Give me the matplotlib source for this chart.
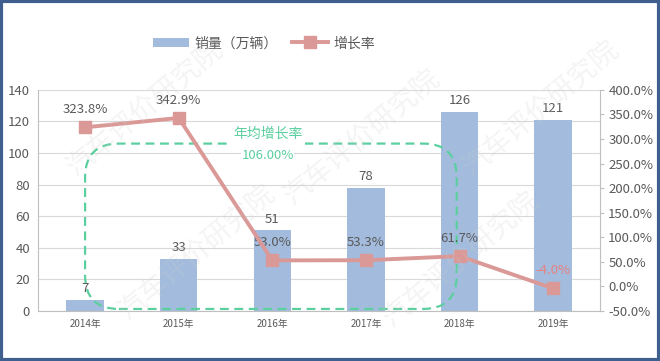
import matplotlib.pyplot as plt
import numpy as np
from matplotlib.patches import FancyBboxPatch, Rectangle

plt.rcParams['font.family'] = ['Noto Sans CJK SC', 'DejaVu Sans']

years = ['2014年', '2015年', '2016年', '2017年', '2018年', '2019年']
sales = [7, 33, 51, 78, 126, 121]
growth = [323.8, 342.9, 53.0, 53.3, 61.7, -4.0]
cagr = 106.00

bar_color = '#a3bcdd'
line_color = '#da9896'
green = '#5ccf9f'
gray = '#595959'

fig = plt.figure(figsize=(6.6, 3.61), dpi=100)
ax = fig.add_axes([0.058, 0.1385, 0.851, 0.6125])
ax2 = ax.twinx()
ax.set_zorder(1)
ax2.set_zorder(2)
ax.patch.set_visible(False)

x = np.arange(len(years))
bars = ax.bar(x, sales, width=0.4, color=bar_color, zorder=2, label='销量（万辆）')
for xi, v in zip(x, sales):
    ax.text(xi, v + 3, str(v), ha='center', va='bottom', fontsize=9.5, color=gray, zorder=5)

ax.set_xlim(-0.5, 5.5)
ax.set_ylim(0, 140)
ax.set_yticks(range(0, 141, 20))
ax.set_xticks(x)
ax.set_xticklabels(years, fontsize=7, color=gray)
ax.tick_params(axis='y', labelsize=9.5, colors=gray, length=0, pad=6)
ax.tick_params(axis='x', length=0, pad=6)
ax.grid(axis='y', color='#d9d9d9', linewidth=0.8, zorder=0)
ax.spines['top'].set_visible(False)
for s in ['left', 'right', 'bottom']:
    ax.spines[s].set_color('#bfbfbf')

ln, = ax2.plot(x, growth, color=line_color, linewidth=2.8, marker='s', markersize=8,
               markerfacecolor=line_color, markeredgecolor=line_color, zorder=4, label='增长率')
for xi, v in zip(x, growth):
    c = '#e88080' if v < 0 else gray
    ax2.text(xi, v + 23, f'{v:.1f}%', ha='center', va='bottom', fontsize=9.5, color=c)
ax2.set_ylim(-50, 400)
ax2.set_yticks(range(-50, 401, 50))
ax2.set_yticklabels([f'{t:.1f}%' for t in range(-50, 401, 50)])
ax2.tick_params(axis='y', labelsize=9.5, colors=gray, length=3, pad=3)
ax2.tick_params(axis='y', color='#bfbfbf')
for s in ax2.spines.values():
    s.set_visible(False)

# average growth annotation (rounded dashed box)
xl = (0 + 0.5) / 6
xr = (3.97 + 0.5) / 6
yb = 1.3 / 140
yt = cagr / 140
box = FancyBboxPatch((xl, yb), xr - xl, yt - yb, transform=ax.transAxes,
                     boxstyle='round,pad=0,rounding_size=0.06', mutation_aspect=562 / 221,
                     fill=False, edgecolor=green, linestyle=(0, (4, 2.5)), linewidth=1.6,
                     zorder=3, clip_on=False)
ax.add_patch(box)
ax.text(1.95, cagr + 6.5, '年均增长率', ha='center', va='center', fontsize=10, color=green,
        zorder=6, bbox=dict(facecolor='white', edgecolor='none', pad=0.5))
ax.text(1.95, cagr - 7.5, f'{cagr:.2f}%', ha='center', va='center', fontsize=9.5, color=green,
        zorder=6, bbox=dict(facecolor='white', edgecolor='none', pad=0.5))
ax.add_patch(Rectangle((1.55, cagr - 2), 0.8, 4, facecolor='white', edgecolor='none', zorder=5))

fig.legend([bars, ln], ['销量（万辆）', '增长率'], loc='center', bbox_to_anchor=(0.4, 0.88),
           ncol=2, frameon=False, fontsize=10, labelcolor=gray, handlelength=2.6,
           columnspacing=1.0, handletextpad=0.4)

# watermark
for (wx, wy) in [(0.22, 0.7), (0.55, 0.62), (0.82, 0.7), (0.3, 0.3), (0.7, 0.28)]:
    fig.text(wx, wy, '汽车评价研究院', rotation=40, fontsize=20, color='#cccccc', alpha=0.22,
             ha='center', va='center', zorder=10)

fig.patches.append(Rectangle((0.002, 0.003), 0.996, 0.994, transform=fig.transFigure,
                             fill=False, edgecolor='#3f5f8f', linewidth=3))

fig.savefig('out.png', dpi=100)
